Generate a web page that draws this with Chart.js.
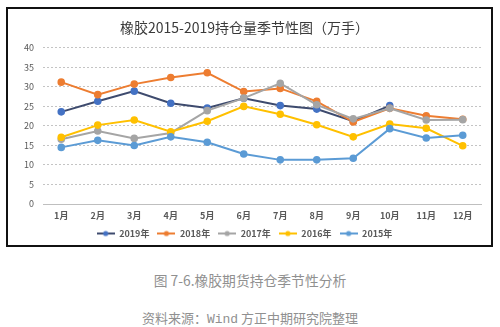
<!DOCTYPE html>
<html>
<head>
<meta charset="utf-8">
<script src="https://cdn.jsdelivr.net/npm/chart.js@4/dist/chart.umd.min.js"></script>
<style>
    body { margin: 0; width: 500px; height: 327px; background: #fff; position: relative; overflow: hidden; }
    #box { position: absolute; left: 6px; top: 7px; width: 483px; height: 236px; border: 2px solid #111; }
    #graphique { display: block; }
    .cap { position: absolute; left: 0; width: 500px; text-align: center; color: #909090;
           font-family: "Noto Sans CJK SC", sans-serif; font-size: 13px; }
    .mono { font-family: "Liberation Mono", monospace; }
</style>
</head>
<body>
<div id="box"><canvas id="graphique" width="483" height="236"></canvas></div>
<div class="cap" style="top:270px; font-size:13.8px">图 7-6.橡胶期货持仓季节性分析</div>
<div class="cap" style="top:308px">资料来源：<span class="mono">Wind</span> 方正中期研究院整理</div>
<script>
// mois
const months = ['1月', '2月', '3月', '4月', '5月', '6月', '7月', '8月', '9月', '10月', '11月', '12月'];

//持仓量 (万手)
const data2019 = [23.6, 26.3, 28.9, 25.8, 24.6, 27.1, 25.2, 24.3, 21.2, 25.2, null, null];
const data2018 = [31.2, 28.0, 30.7, 32.4, 33.6, 28.8, 29.6, 26.3, 21.0, 24.5, 22.6, 21.7];
const data2017 = [16.6, 18.7, 16.8, 18.2, 23.9, 27.1, 30.9, 25.4, 21.8, 24.5, 21.5, 21.6];
const data2016 = [17.1, 20.2, 21.5, 18.5, 21.2, 25.0, 23.0, 20.3, 17.2, 20.5, 19.4, 14.9];
const data2015 = [14.5, 16.3, 15.0, 17.2, 15.8, 12.8, 11.3, 11.3, 11.7, 19.3, 16.9, 17.6];

const yTicks = [0, 5, 10, 15, 20, 25, 30, 35, 40];

function makeIcon(lineColor, dotColor) {
    let c = document.createElement('canvas');
    c.width = 18;
    c.height = 8;
    let g = c.getContext('2d');
    g.strokeStyle = lineColor;
    g.lineWidth = 2;
    g.beginPath();
    g.moveTo(0, 4);
    g.lineTo(18, 4);
    g.stroke();
    g.fillStyle = dotColor;
    g.beginPath();
    g.arc(9, 4, 2.6, 0, Math.PI * 2);
    g.fill();
    return c;
}

function serie(label, values, line, dot) {
    return {
        label: label,
        data: values,
        borderColor: line,
        backgroundColor: dot,
        pointBackgroundColor: dot,
        pointBorderColor: dot,
        pointRadius: 2.8,
        pointHoverRadius: 2.8,
        borderWidth: 2,
        tension: 0,
        icon: makeIcon(line, dot)
    };
}

const datasets = [
    serie('2019年', data2019, '#3e4b6e', '#4472C4'),
    serie('2018年', data2018, '#ED7D31', '#ED7D31'),
    serie('2017年', data2017, '#A5A5A5', '#A5A5A5'),
    serie('2016年', data2016, '#FFC000', '#FFC000'),
    serie('2015年', data2015, '#5B9BD5', '#5B9BD5')
];
// Excel dessine la première série en dessous
datasets.forEach((d, i) => { d.order = datasets.length - i; });

let ctx = document.getElementById('graphique').getContext('2d');
var myChart = new Chart(ctx, {
    type: 'line',
    data: { labels: months, datasets: datasets },
    options: {
        responsive: false,
        animation: false,
        layout: { padding: { left: 0, right: 10, top: 0, bottom: -3 } },
        plugins: {
            title: {
                display: true,
                text: '橡胶2015-2019持仓量季节性图（万手）',
                color: '#3a3a3a',
                font: { family: '"Noto Sans CJK SC", sans-serif', size: 14, weight: 'normal' },
                padding: { top: 10, bottom: 12 }
            },
            legend: {
                position: 'bottom',
                labels: {
                    usePointStyle: true,
                    pointStyleWidth: 18,
                    boxHeight: 8,
                    padding: 8,
                    color: '#595959',
                    font: { family: '"Noto Sans CJK SC", sans-serif', size: 9, weight: 'bold' },
                    generateLabels: function(chart) {
                        return chart.data.datasets.map((d, i) => ({
                            text: d.label,
                            pointStyle: d.icon,
                            fillStyle: d.borderColor,
                            strokeStyle: d.borderColor,
                            lineWidth: 0,
                            fontColor: '#595959',
                            datasetIndex: i,
                            hidden: false
                        }));
                    }
                }
            },
            tooltip: { enabled: false }
        },
        scales: {
            x: {
                offset: true,
                grid: { display: false, drawTicks: false },
                border: { display: true, color: '#bfbfbf', width: 1 },
                ticks: {
                    color: '#595959',
                    padding: 6,
                    maxRotation: 0,
                    font: { family: '"Noto Sans CJK SC", sans-serif', size: 9, weight: 'bold' }
                },
                afterFit: function(scale) { scale.height = 17; }
            },
            y: {
                min: 0,
                max: 40,
                afterBuildTicks: function(scale) { scale.ticks = yTicks.map(v => ({ value: v })); },
                grid: {
                    color: function(c) { return c.tick.value === 0 ? 'rgba(0,0,0,0)' : '#c4c4c4'; },
                    drawTicks: false,
                    lineWidth: 1
                },
                border: { display: false, dash: [2, 2] },
                ticks: {
                    color: '#595959',
                    padding: 9,
                    font: { family: '"Noto Sans CJK SC", sans-serif', size: 9 }
                },
                afterFit: function(scale) { scale.width = 35; }
            }
        }
    }
});
</script>
</body>
</html>
